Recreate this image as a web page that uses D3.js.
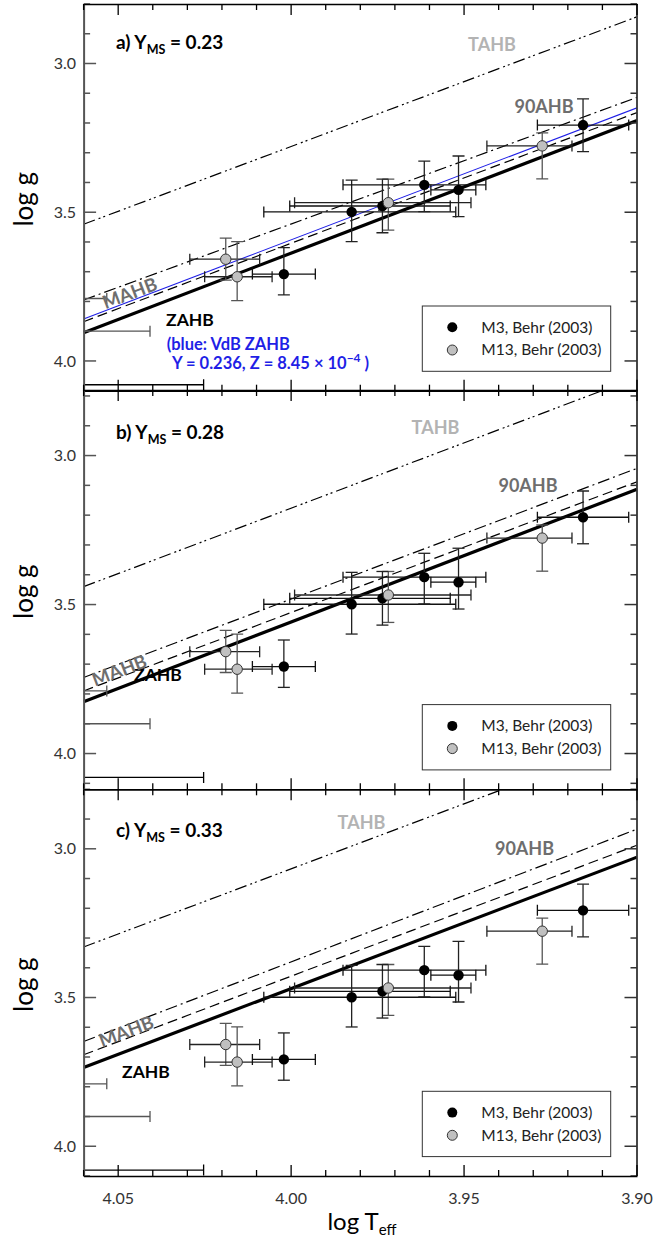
<!DOCTYPE html>
<html><head><meta charset="utf-8">
<script src="https://cdn.jsdelivr.net/npm/d3@7"></script>
<style>
body{margin:0;background:#fff}
svg{display:block}
text{font-family:Lato,'Open Sans',sans-serif}
</style>
</head><body>
<svg id="chart" width="666" height="1248"></svg>
<script>
// ---------------- data ----------------
const panelLetters = ["a)", "b)", "c)"];
const yMS = ["0.23", "0.28", "0.33"];
const tTickLabels = [4.05, 4.00, 3.95, 3.90];
const gTickLabels = [3.0, 3.5, 4.0];
const lineT = [4.06, 3.90];               // logTeff at the two ends of each model line
// log g of the model lines at logT = 4.06 and 3.90, per panel
const zahbG  = [[3.905, 3.192], [3.826, 3.113], [3.735, 3.028]];
const mahbG  = [[3.868, 3.165], [3.790, 3.088], [3.6925, 2.988]];
const ahb90G = [[3.795, 3.114], [3.745, 3.043], [3.648, 2.934]];
const tahbG  = [[3.5405, 2.843], [3.440, 2.738], [3.330, 2.630]];
const vdbZahbG = [3.859, 3.149];          // blue VdB ZAHB, panel a only

// M3 (Behr 2003)
const m3T   = [4.0021, 3.9825, 3.9736, 3.9615, 3.9516, 3.9156];
const m3G   = [3.708, 3.499, 3.479, 3.408, 3.425, 3.207];
const m3TLo = [4.0112, 4.0079, 4.0004, 3.9850, 3.9596, 3.9288];
const m3THi = [3.9930, 3.9524, 3.9540, 3.9437, 3.9466, 3.9024];
const m3GLo = [3.619, 3.392, 3.389, 3.328, 3.311, 3.119];
const m3GHi = [3.778, 3.599, 3.569, 3.498, 3.515, 3.296];
// M13 (Behr 2003)
const m13T   = [4.0189, 4.0156, 3.9719, 3.9274];
const m13G   = [3.658, 3.717, 3.468, 3.277];
const m13TLo = [4.0293, 4.0250, 3.9990, 3.9434];
const m13THi = [4.0091, 4.0055, 3.9480, 3.9188];
const m13GLo = [3.587, 3.599, 3.389, 3.233];
const m13GHi = [3.728, 3.797, 3.560, 3.388];
// error bars of stars hotter than the plotted range (only their cool ends show)
const offG    = [3.79, 3.90, 4.08];
const offTEnd = [4.0533, 4.0408, 4.0253];

const legendLabels = ["M3, Behr (2003)", "M13, Behr (2003)"];

// ---------------- layout ----------------
const svg = d3.select("#chart");
const X0 = 83.6, X1 = 637;
const panels = [
  {top: 4,     bottom: 390.7,  g0: 2.80, g1: 4.10},
  {top: 390,   bottom: 789.3,  g0: 2.78, g1: 4.12},
  {top: 789.3, bottom: 1176,   g0: 2.80, g1: 4.10}
];
const x = d3.scaleLinear().domain([4.06, 3.90]).range([X0, X1]);
const tMinor = d3.range(0, 17).map(i => +(4.06 - i * 0.01).toFixed(2));
const gMinorAll = d3.range(27, 43).map(i => +(i / 10).toFixed(1));

const labelPos = [
  {tahb:[492,50.7], ahb90:[544,113.3], zahb:[190,326], mahbT:4.046, title:49.3},
  {tahb:[435.5,434], ahb90:[528,492.3], zahb:[158,681], mahbT:4.049, title:439.3},
  {tahb:[361.5,829.3], ahb90:[524.5,855], zahb:[146,1078.3], mahbT:4.047, title:836.7}
];

panels.forEach((p, pi) => {
  const y = d3.scaleLinear().domain([p.g0, p.g1]).range([p.top, p.bottom]);
  const g = svg.append("g");
  const clipId = "clip" + pi;
  svg.append("clipPath").attr("id", clipId).append("rect")
    .attr("x", X0).attr("y", p.top).attr("width", X1 - X0).attr("height", p.bottom - p.top);
  const plot = g.append("g").attr("clip-path", `url(#${clipId})`);

  // model lines
  const line = d3.line().x(d => x(d[0])).y(d => y(d[1]));
  const mk = vals => lineT.map((t, i) => [t, vals[i]]);
  const styles = [
    {v: tahbG[pi],  w: 1.2, dash: "12,4,2,3,2,4"},
    {v: ahb90G[pi], w: 1.2, dash: "12,4,2,4"},
    {v: mahbG[pi],  w: 1.2, dash: "10,5"},
    {v: zahbG[pi],  w: 3.2, dash: null}
  ];
  styles.forEach(s => {
    plot.append("path").attr("d", line(mk(s.v))).attr("fill", "none")
      .attr("stroke", "#000").attr("stroke-width", s.w)
      .attr("stroke-dasharray", s.dash);
  });
  if (pi === 0) {
    plot.append("path").attr("d", line(mk(vdbZahbG))).attr("fill", "none")
      .attr("stroke", "#1f1fe6").attr("stroke-width", 1.1);
  }

  // off-range error bars
  offG.forEach((gv, i) => {
    const col = i === 2 ? "#000" : "#555";
    plot.append("line").attr("x1", x(4.06)).attr("x2", x(offTEnd[i]))
      .attr("y1", y(gv)).attr("y2", y(gv)).attr("stroke", col).attr("stroke-width", 1.3);
    plot.append("line").attr("x1", x(offTEnd[i])).attr("x2", x(offTEnd[i]))
      .attr("y1", y(gv) - 5.5).attr("y2", y(gv) + 5.5).attr("stroke", col).attr("stroke-width", 1.3);
  });

  // error bars
  function errbars(T, G, TL, TH, GL, GH, hcol, vcol) {
    T.forEach((t, i) => {
      const cx = x(t), cy = y(G[i]);
      const xl = x(TL[i]), xr = x(TH[i]);
      const yt = y(GL[i]), yb = y(GH[i]);
      plot.append("line").attr("x1", xl).attr("x2", xr).attr("y1", cy).attr("y2", cy)
        .attr("stroke", hcol).attr("stroke-width", 1.3);
      [xl, xr].forEach(xx => plot.append("line").attr("x1", xx).attr("x2", xx)
        .attr("y1", cy - 5.5).attr("y2", cy + 5.5).attr("stroke", hcol).attr("stroke-width", 1.3));
      plot.append("line").attr("x1", cx).attr("x2", cx).attr("y1", yt).attr("y2", yb)
        .attr("stroke", vcol).attr("stroke-width", 1.3);
      [yt, yb].forEach(yy => plot.append("line").attr("x1", cx - 6).attr("x2", cx + 6)
        .attr("y1", yy).attr("y2", yy).attr("stroke", vcol).attr("stroke-width", 1.3));
    });
  }
  errbars(m13T, m13G, m13TLo, m13THi, m13GLo, m13GHi, "#222", "#555");
  errbars(m3T, m3G, m3TLo, m3THi, m3GLo, m3GHi, "#111", "#222");

  m3T.forEach((t, i) => plot.append("circle").attr("cx", x(t)).attr("cy", y(m3G[i]))
    .attr("r", 5.2).attr("fill", "#000"));
  m13T.forEach((t, i) => plot.append("circle").attr("cx", x(t)).attr("cy", y(m13G[i]))
    .attr("r", 5.2).attr("fill", "#c0c0c0").attr("stroke", "#333").attr("stroke-width", 1));

  // axes
  const gMinor = gMinorAll.filter(v => v >= p.g0 - 1e-9 && v <= p.g1 + 1e-9);
  const isMajor = v => Math.abs(v * 2 - Math.round(v * 2)) < 1e-6;
  const axL = g.append("g").attr("transform", `translate(${X0},0)`)
    .call(d3.axisLeft(y).tickValues(gMinor).tickSize(0).tickFormat(""));
  axL.selectAll(".tick line").remove();
  axL.select(".domain").attr("stroke", "#555").attr("stroke-width", 2);
  gMinor.forEach(v => {
    const L = isMajor(v) ? 12.5 : 6.5;
    g.append("line").attr("x1", X0).attr("x2", X0 + L).attr("y1", y(v)).attr("y2", y(v))
      .attr("stroke", "#555").attr("stroke-width", 1.5);
    g.append("line").attr("x1", X1).attr("x2", X1 - L).attr("y1", y(v)).attr("y2", y(v))
      .attr("stroke", "#333").attr("stroke-width", 1.5);
  });
  gTickLabels.forEach(v => {
    g.append("text").attr("x", 76).attr("y", y(v)).attr("dy", "0.35em")
      .attr("text-anchor", "end").attr("font-size", 16).attr("fill", "#333")
      .text(v.toFixed(1));
  });
  g.append("line").attr("x1", X1).attr("x2", X1).attr("y1", p.top).attr("y2", p.bottom)
    .attr("stroke", "#333").attr("stroke-width", 1.8);
  // top / bottom axes
  const axT = g.append("g").attr("transform", `translate(0,${p.top})`)
    .call(d3.axisTop(x).tickValues(tMinor).tickFormat("")
      .tickSizeInner(0).tickSizeOuter(0));
  axT.select(".domain").attr("stroke", "#000").attr("stroke-width", 1.5);
  const axB = g.append("g").attr("transform", `translate(0,${p.bottom})`)
    .call(d3.axisBottom(x).tickValues(tMinor).tickFormat("")
      .tickSizeInner(0).tickSizeOuter(0));
  axB.select(".domain").attr("stroke", "#000").attr("stroke-width", 1.5);
  const tMajor = v => Math.abs(v * 20 - Math.round(v * 20)) < 1e-6;
  tMinor.forEach(v => {
    const L = tMajor(v) ? 11 : 6;
    g.append("line").attr("x1", x(v)).attr("x2", x(v)).attr("y1", p.top).attr("y2", p.top + L)
      .attr("stroke", "#000").attr("stroke-width", 1.3);
    g.append("line").attr("x1", x(v)).attr("x2", x(v)).attr("y1", p.bottom).attr("y2", p.bottom - L)
      .attr("stroke", "#000").attr("stroke-width", 1.3);
  });

  // titles / labels
  const lp = labelPos[pi];
  const tt = g.append("text").attr("x", 116).attr("y", lp.title)
    .attr("font-size", 19).attr("font-weight", 700).attr("fill", "#000");
  tt.append("tspan").text(panelLetters[pi] + " Y");
  tt.append("tspan").attr("font-size", 12.5).attr("dy", 5).text("MS");
  tt.append("tspan").attr("dy", -5).text(" = " + yMS[pi]);

  g.append("text").attr("x", lp.tahb[0]).attr("y", lp.tahb[1]).attr("text-anchor", "middle")
    .attr("font-size", 18).attr("font-weight", 700).attr("fill", "#b3b3b3").text("TAHB");
  g.append("text").attr("x", lp.ahb90[0]).attr("y", lp.ahb90[1]).attr("text-anchor", "middle")
    .attr("font-size", 18).attr("font-weight", 700).attr("fill", "#6e6e6e").text("90AHB");
  g.append("text").attr("x", lp.zahb[0]).attr("y", lp.zahb[1]).attr("text-anchor", "middle")
    .attr("font-size", 17.5).attr("font-weight", 700).attr("fill", "#000").text("ZAHB");
  // MAHB along the lines
  const ang = Math.atan2(y(mahbG[pi][1]) - y(mahbG[pi][0]), x(lineT[1]) - x(lineT[0])) * 180 / Math.PI;
  const mt = lp.mahbT;
  const f = (4.06 - mt) / 0.16;
  const gm = (ahb90G[pi][0] + mahbG[pi][0]) / 2 + ((ahb90G[pi][1] + mahbG[pi][1]) - (ahb90G[pi][0] + mahbG[pi][0])) / 2 * f;
  g.append("text").attr("transform", `translate(${x(mt)},${y(gm) + 6.5}) rotate(${ang})`)
    .attr("text-anchor", "middle").attr("font-size", 18.5).attr("font-weight", 700)
    .attr("fill", "#6e6e6e").text("MAHB");

  if (pi === 0) {
    g.append("text").attr("x", 166.7).attr("y", 350).attr("font-size", 16.5).attr("font-weight", 700)
      .attr("fill", "#1f1fe6").text("(blue: VdB ZAHB");
    const bt = g.append("text").attr("x", 172).attr("y", 369.3).attr("font-size", 16.5)
      .attr("font-weight", 700).attr("fill", "#1f1fe6");
    bt.append("tspan").text("Y = 0.236, Z = 8.45 × 10");
    bt.append("tspan").attr("font-size", 12).attr("dy", -7).text("−4");
    bt.append("tspan").attr("dy", 7).text(" )");
  }

  // legend
  const ly = p.bottom - 84.7;
  g.append("rect").attr("x", 422.3).attr("y", ly).attr("width", 188.4).attr("height", 65.3)
    .attr("fill", "#fff").attr("stroke", "#333").attr("stroke-width", 1);
  [["#000", null], ["#c0c0c0", "#333"]].forEach((c, i) => {
    g.append("circle").attr("cx", 452.3).attr("cy", ly + 21.3 + i * 22.7).attr("r", 5)
      .attr("fill", c[0]).attr("stroke", c[1]).attr("stroke-width", 1);
    g.append("text").attr("x", 481.3).attr("y", ly + 26.7 + i * 22.7).attr("font-size", 15.5)
      .attr("fill", "#222").text(legendLabels[i]);
  });

  // y title
  const yc = (p.top + p.bottom) / 2 + 2;
  g.append("text").attr("transform", `translate(33,${yc}) rotate(-90)`)
    .attr("text-anchor", "middle").attr("font-size", 26).attr("fill", "#000").text("log g");

  if (pi === 2) {
    tTickLabels.forEach(v => {
      g.append("text").attr("x", x(v)).attr("y", 1204).attr("text-anchor", "middle")
        .attr("font-size", 16).attr("fill", "#333").text(v.toFixed(2));
    });
  }
});

// x title
const xt = svg.append("text").attr("x", 362).attr("y", 1230).attr("text-anchor", "middle")
  .attr("font-size", 24).attr("fill", "#000");
xt.append("tspan").text("log T");
xt.append("tspan").attr("font-size", 15).attr("dy", 5).text("eff");
</script>
</body></html>
